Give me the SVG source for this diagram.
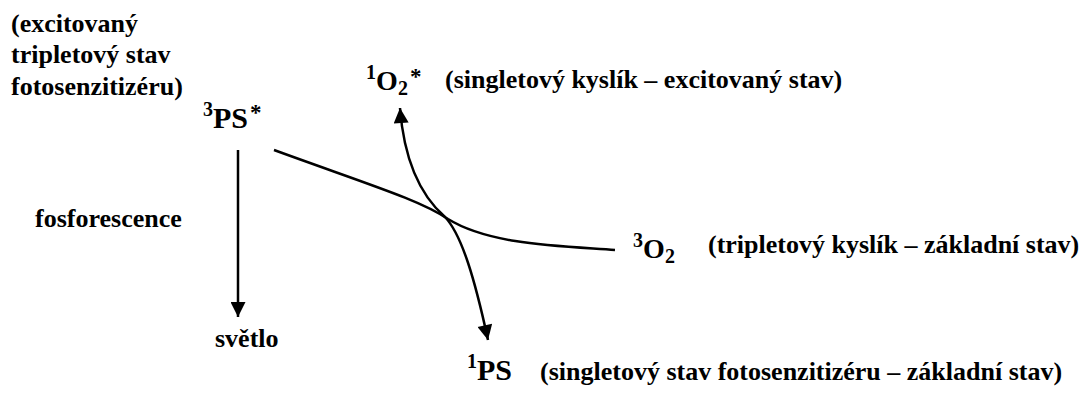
<svg xmlns="http://www.w3.org/2000/svg" width="1092" height="401" viewBox="0 0 1092 401">
<style>
text{font-family:"Liberation Serif","Times New Roman",serif;font-weight:bold;fill:#000}
.t{font-size:26px}
.big{font-size:30px}
.mid{font-size:28px}
.sup{font-size:20px}
.ast{font-size:23px}
.ln{fill:none;stroke:#000;stroke-width:2.5}
</style>
<defs>
<marker id="ah" viewBox="0 0 10 10" refX="10" refY="5" markerWidth="6.4" markerHeight="6" markerUnits="strokeWidth" orient="auto">
<path d="M0,0 L10,5 L0,10 z" fill="#000"/>
</marker>
<marker id="ahs" viewBox="0 0 10 10" refX="0" refY="5" markerWidth="6.4" markerHeight="6" markerUnits="strokeWidth" orient="auto">
<path d="M10,0 L0,5 L10,10 z" fill="#000"/>
</marker>
</defs>
<g id="note-ps">
<text class="t" x="11" y="32">(excitovaný</text>
<text class="t" x="11" y="63">tripletový stav</text>
<text class="t" x="11" y="95">fotosenzitizéru)</text>
</g>
<g id="ps3">
<text><tspan class="sup" x="203" y="116">3</tspan><tspan class="big" x="213" y="128">PS</tspan><tspan class="ast" x="250" y="120">*</tspan></text>
</g>
<g id="o2singlet">
<text><tspan class="sup" x="366" y="79">1</tspan><tspan class="mid" x="376" y="90">O</tspan><tspan class="sup" x="398" y="95">2</tspan><tspan class="ast" x="410" y="84">*</tspan></text>
<text class="t" x="445" y="88">(singletový kyslík – excitovaný stav)</text>
</g>
<g id="o2triplet">
<text><tspan class="sup" x="633" y="247">3</tspan><tspan class="mid" x="643" y="258">O</tspan><tspan class="sup" x="665" y="263">2</tspan></text>
<text class="t" x="708" y="253">(tripletový kyslík – základní stav)</text>
</g>
<g id="ps1">
<text><tspan class="sup" x="467" y="368">1</tspan><tspan class="big" x="477" y="380">PS</tspan></text>
<text class="t" x="540" y="380">(singletový stav fotosenzitizéru – základní stav)</text>
</g>
<g id="fosforescence">
<text class="t" x="35" y="227">fosforescence</text>
</g>
<g id="svetlo">
<text class="t" x="215" y="347">světlo</text>
</g>
<g id="connectors">
<path class="ln" d="M238,150 L238,317" marker-end="url(#ah)"/>
<path class="ln" d="M274,150 C370,185 420,200 448,219 C490,245 560,246 615,250"/>
<path class="ln" d="M400,108 C404,160 420,195 445,217 C462,235 475,280 488,340" marker-start="url(#ahs)" marker-end="url(#ah)"/>
</g>
</svg>
